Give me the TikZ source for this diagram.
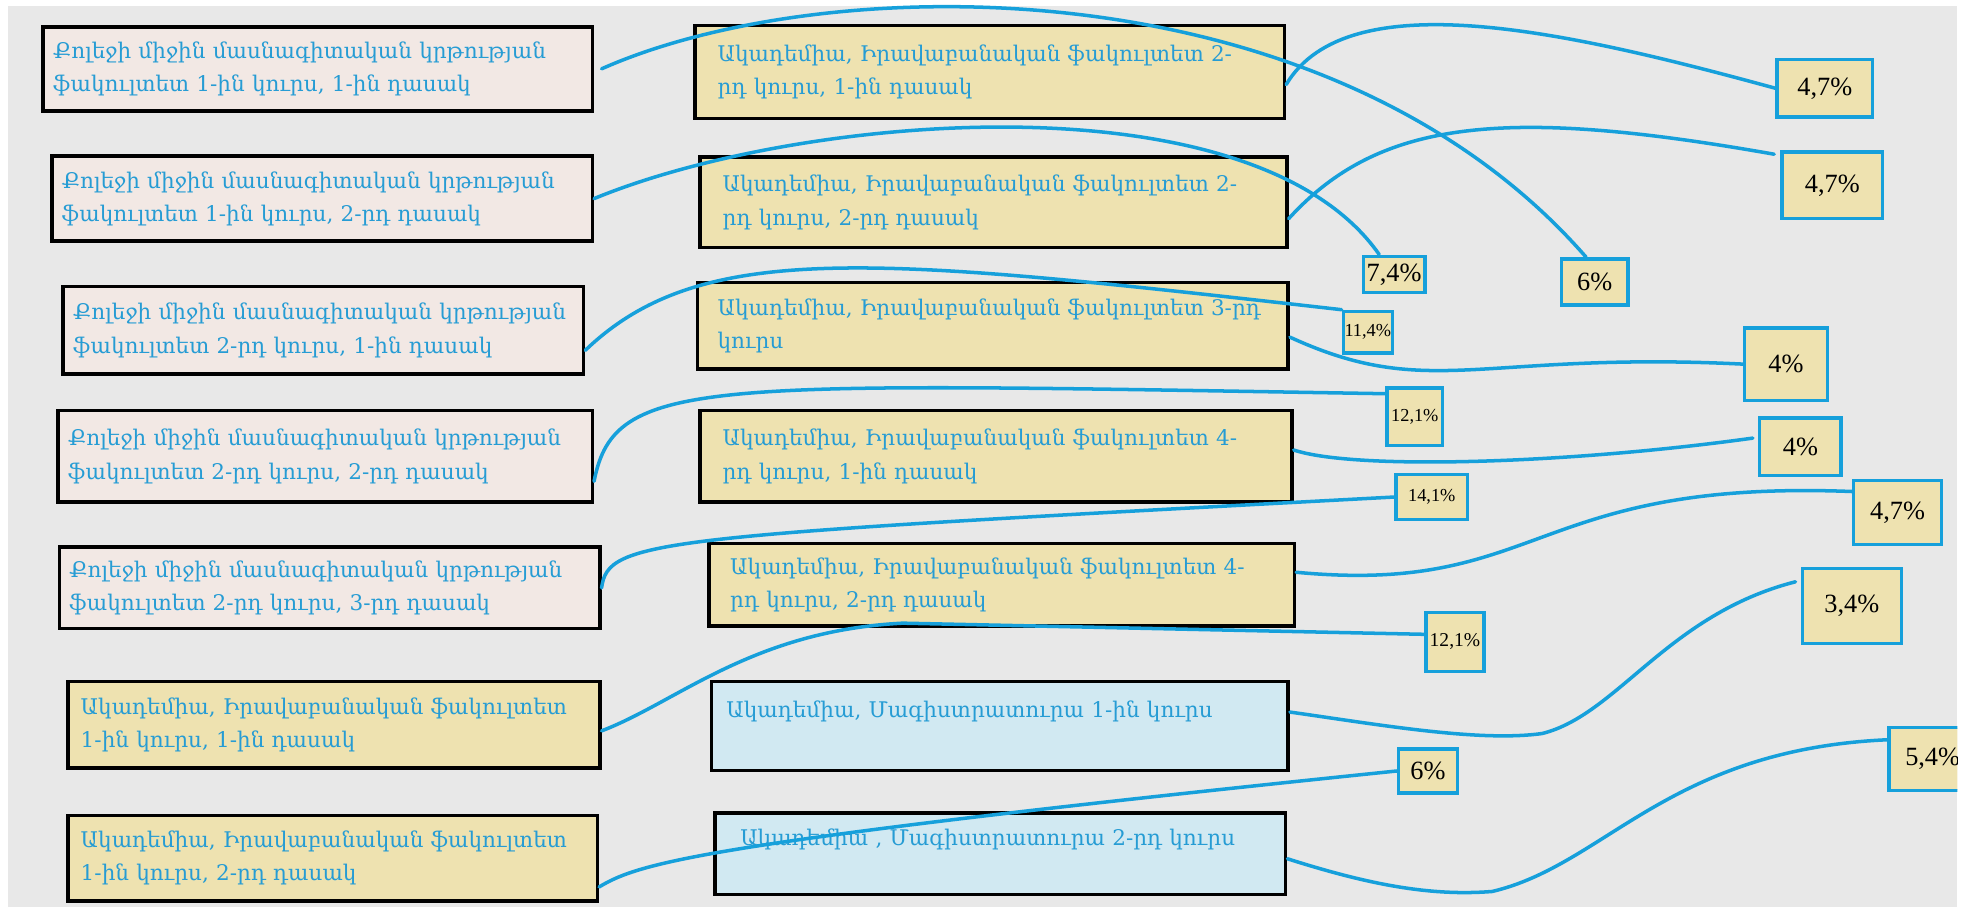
\documentclass[tikz,border=0pt]{standalone}
\usepackage{fontspec}
\setmainfont{Liberation Serif}
\newfontfamily\armfont{DejaVu Serif}
\usepackage{tikz}
\usetikzlibrary{positioning,calc}

\definecolor{bggray}{RGB}{232,232,232}
\definecolor{linkblue}{RGB}{22,160,219}
\definecolor{textblue}{RGB}{38,156,212}
\definecolor{pinkbox}{RGB}{242,232,228}
\definecolor{yellowbox}{RGB}{238,226,176}
\definecolor{bluebox}{RGB}{209,233,242}

\tikzset{
  every node/.style={anchor=north west},
  grp/.style={draw=black, line width=1.4pt, align=left, text=textblue,
    font=\armfont\fontsize{8.6}{13.3}\selectfont, inner ysep=2pt},
  kolej/.style={grp, fill=pinkbox, inner xsep=4pt},
  akad/.style={grp, fill=yellowbox},
  magis/.style={grp, fill=bluebox},
  pct/.style={draw=linkblue, line width=1.4pt, fill=yellowbox, text=black, inner sep=0pt},
  big/.style={font=\fontsize{10.5}{12}\selectfont},
  small/.style={font=\fontsize{7.3}{9}\selectfont},
  link/.style={draw=linkblue, line width=1.4pt, line cap=round},
}

\begin{document}
\begin{tikzpicture}[x=0.5pt, y=-0.5pt]
  \useasboundingbox (0,0) rectangle (1568,723);
  \fill[bggray] (6,5) rectangle (1561,723);

  % left column
  \node[kolej, text width=211pt, minimum height=33.5pt] (k11) at (33,20)
    {Քոլեջի միջին մասնագիտական կրթության\\ֆակուլտետ 1-ին կուրս, 1-ին դասակ};
  \node[kolej, text width=207.5pt, minimum height=34pt] (k12) at (40,123)
    {Քոլեջի միջին մասնագիտական կրթության\\ֆակուլտետ 1-ին կուրս, 2-րդ դասակ};
  \node[kolej, text width=199.5pt, minimum height=35pt] (k21) at (49,227)
    {Քոլեջի միջին մասնագիտական կրթության\\ֆակուլտետ 2-րդ կուրս, 1-ին դասակ};
  \node[kolej, text width=205pt, minimum height=36.5pt] (k22) at (45,326)
    {Քոլեջի միջին մասնագիտական կրթության\\ֆակուլտետ 2-րդ կուրս, 2-րդ դասակ};
  \node[kolej, text width=207.5pt, minimum height=32.5pt] (k23) at (46,435)
    {Քոլեջի միջին մասնագիտական կրթության\\ֆակուլտետ 2-րդ կուրս, 3-րդ դասակ};
  \node[akad, inner xsep=5pt, text width=202pt, minimum height=34.5pt] (a11) at (53,542)
    {Ակադեմիա, Իրավաբանական ֆակուլտետ\\1-ին կուրս, 1-ին դասակ};
  \node[akad, inner xsep=5pt, text width=201pt, minimum height=34pt] (a12) at (53,649)
    {Ակադեմիա, Իրավաբանական ֆակուլտետ\\1-ին կուրս, 2-րդ դասակ};

  % middle column
  \node[akad, inner xsep=9pt, text width=217pt, minimum height=37pt] (a21) at (553,19)
    {Ակադեմիա, Իրավաբանական ֆակուլտետ 2-\\րդ կուրս, 1-ին դասակ};
  \node[akad, inner xsep=9pt, text width=216pt, minimum height=36pt] (a22) at (557,124)
    {Ակադեմիա, Իրավաբանական ֆակուլտետ 2-\\րդ կուրս, 2-րդ դասակ};
  \node[akad, inner xsep=8pt, text width=219.5pt, minimum height=34.5pt] (a3) at (555,224)
    {Ակադեմիա, Իրավաբանական ֆակուլտետ 3-րդ\\կուրս};
  \node[akad, inner xsep=9pt, text width=218pt, minimum height=36.5pt] (a41) at (557,326)
    {Ակադեմիա, Իրավաբանական ֆակուլտետ 4-\\րդ կուրս, 1-ին դասակ};
  \node[akad, inner xsep=8.5pt, text width=216.5pt, minimum height=33pt] (a42) at (564,432)
    {Ակադեմիա, Իրավաբանական ֆակուլտետ 4-\\րդ կուրս, 2-րդ դասակ};
  \node[magis, inner xsep=6pt, text width=218pt, minimum height=35.5pt] (m1) at (566,542)
    {Ակադեմիա, Մագիստրատուրա 1-ին կուրս\\\mbox{}};
  \node[magis, inner xsep=10pt, text width=207.5pt, minimum height=32.5pt] (m2) at (569,647)
    {Ակադեմիա , Մագիստրատուրա 2-րդ կուրս\\\mbox{}};

  % percentages
  \node[pct, big, minimum width=38pt, minimum height=23pt] (pa21) at (1416,46) {4,7\%};
  \node[pct, big, minimum width=40pt, minimum height=26.5pt] (pa22) at (1420,120) {4,7\%};
  \node[pct, big, minimum width=24.5pt, minimum height=14.5pt] (pk12) at (1086,203) {7,4\%};
  \node[pct, big, minimum width=26.5pt, minimum height=18.5pt] (pk11) at (1244,205) {6\%};
  \node[pct, small, minimum width=19.5pt, minimum height=16.5pt] (pk21) at (1070,247) {11,4\%};
  \node[pct, big, minimum width=33pt, minimum height=29pt] (pa3) at (1390,260) {4\%};
  \node[pct, small, minimum width=22pt, minimum height=23pt] (pk22) at (1105,308) {12,1\%};
  \node[pct, big, minimum width=32.5pt, minimum height=23pt] (pa41) at (1402,332) {4\%};
  \node[pct, small, minimum width=28.5pt, minimum height=18pt] (pk23) at (1112,377) {14,1\%};
  \node[pct, big, minimum width=35pt, minimum height=25.5pt] (pa42) at (1477,382) {4,7\%};
  \node[pct, small, font=\fontsize{7.8}{9}\selectfont, minimum width=23pt, minimum height=23.5pt] (pa11) at (1136,487) {12,1\%};
  \node[pct, big, minimum width=39.5pt, minimum height=30pt] (pm1) at (1436,452) {3,4\%};
  \node[pct, big, minimum width=23.5pt, minimum height=17.5pt] (pa12) at (1114,596) {6\%};
  \begin{scope}
    \clip (0,0) rectangle (1561,723);
    \node[pct, big, minimum width=35pt, minimum height=25pt] (pm2) at (1505,579) {5,4\%};
  \end{scope}

  % links
  \draw[link] ([shift={(6,0)}]k11.east) .. controls (660,-25) and (1060,-30) .. ([shift={(-7,0)}]pk11.north);
  \draw[link] (k12.east) .. controls (640,90) and (1000,60) .. ([shift={(14,0)}]pk12.north west);
  \draw[link] ([shift={(0,16)}]k21.east) .. controls (560,190) and (700,205) .. (pk21.north west);
  \draw[link] ([shift={(0,20)}]k22.east) .. controls (490,300) and (560,305) .. ([shift={(0,6)}]pk22.north west);
  \draw[link] (k23.east) .. controls (485,430) and (520,428) .. (pk23.west);
  \draw[link] ([shift={(0,5)}]a11.east) .. controls (540,560) and (600,503) .. (720,497) -- ([shift={(0,-6)}]pa11.west);
  \draw[link] ([shift={(0,23)}]a12.east) .. controls (510,688) and (560,672) .. (pa12.west);

  \draw[link] ([shift={(0,10)}]a21.east) .. controls (1075,-15) and (1250,25) .. (pa21.west);
  \draw[link] ([shift={(0,13)}]a22.east) .. controls (1100,95) and (1200,85) .. ([shift={(-5,3)}]pa22.north west);
  \draw[link] ([shift={(0,9)}]a3.east) .. controls (1140,320) and (1180,280) .. (pa3.west);
  \draw[link] ([shift={(0,-5)}]a41.east) .. controls (1080,375) and (1250,370) .. ([shift={(-4,-7)}]pa41.west);
  \draw[link] ([shift={(0,-10)}]a42.east) .. controls (1230,475) and (1220,382) .. ([shift={(0,10)}]pa42.north west);
  \draw[link] ([shift={(0,-11)}]m1.east) .. controls (1100,578) and (1180,592) .. (1230,585)
    .. controls (1290,570) and (1330,490) .. ([shift={(-4,12)}]pm1.north west);
  \draw[link] ([shift={(0,4)}]m2.east) .. controls (1090,705) and (1140,715) .. (1190,711)
    .. controls (1280,690) and (1330,598) .. ([shift={(0,11)}]pm2.north west);
\end{tikzpicture}
\end{document}
